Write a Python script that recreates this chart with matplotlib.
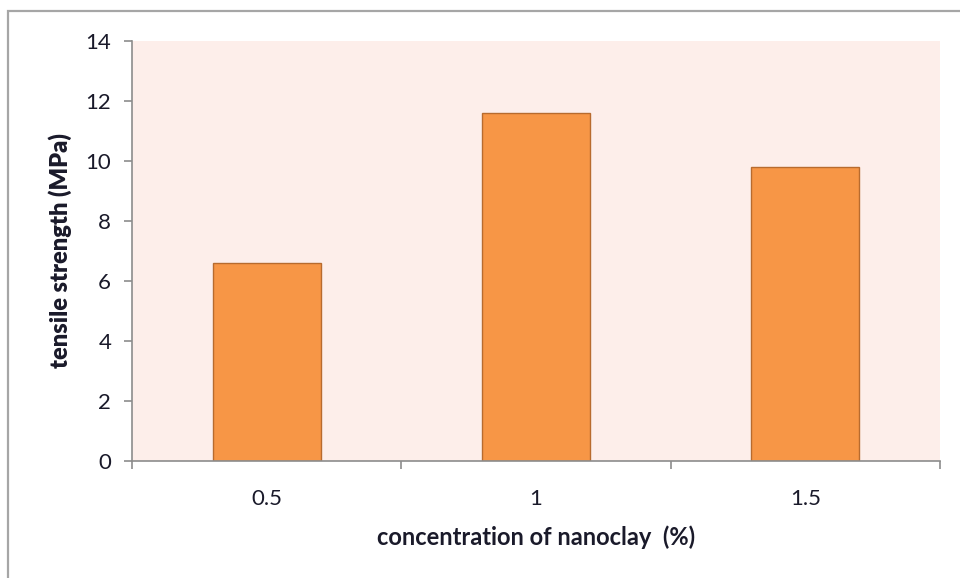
import matplotlib.pyplot as plt
from matplotlib.patches import Rectangle
from matplotlib.ticker import FixedLocator

concentrations = ["0.5", "1", "1.5"]
tensile_strength = [6.6, 11.6, 9.8]
y_ticks = [0, 2, 4, 6, 8, 10, 12, 14]

plt.rcParams["font.family"] = ["Lato", "DejaVu Sans"]

fig = plt.figure(figsize=(9.6, 5.78), dpi=100)
ax = fig.add_axes([0.1375, 0.2024, 0.8417, 0.7266])

# outer chart frame
fig.patches.append(Rectangle((8 / 960, -0.1), 1.2, 1 - 11 / 578 + 0.1,
                             transform=fig.transFigure, fill=False,
                             edgecolor="#a6a6a6", linewidth=1.6))

ax.set_facecolor("#fdeeea")
x = range(len(concentrations))
ax.bar(x, tensile_strength, width=0.4, color="#f79646",
       edgecolor="#b86b2e", linewidth=1.0)

ax.set_xlim(-0.5, len(concentrations) - 0.5)
ax.set_ylim(0, 14)
ax.set_yticks(y_ticks)
ax.set_xticks(list(x))
ax.set_xticklabels(concentrations)
ax.xaxis.set_minor_locator(FixedLocator([-0.5, 0.5, 1.5, 2.5]))

for side in ("top", "right"):
    ax.spines[side].set_visible(False)
for side in ("left", "bottom"):
    ax.spines[side].set_color("#8c8c8c")
    ax.spines[side].set_linewidth(1.2)

ax.tick_params(axis="y", direction="out", length=6, width=1.2,
               color="#8c8c8c", labelsize=16, pad=9, labelcolor="#1a1a2a")
ax.tick_params(axis="x", which="major", length=0, labelsize=16, pad=20,
               labelcolor="#1a1a2a")
ax.tick_params(axis="x", which="minor", direction="out", length=6,
               width=1.2, color="#8c8c8c")

ax.set_ylabel("tensile strength (MPa)", fontsize=17, fontweight="heavy",
              labelpad=10, color="#1a1a2a")
ax.set_xlabel("concentration of nanoclay  (%)", fontsize=17,
              fontweight="bold", labelpad=12, color="#1a1a2a")

fig.savefig("out.png", dpi=100)
